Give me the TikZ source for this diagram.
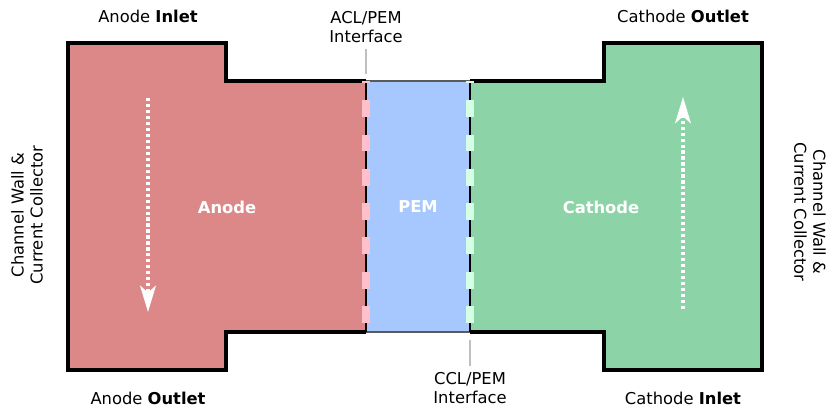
\documentclass[tikz,border=0pt]{standalone}
\usepackage{fontspec}
\setmainfont{DejaVu Sans}
\usetikzlibrary{arrows.meta}
\usepackage{xcolor}

\definecolor{anodefill}{RGB}{221,136,136}
\definecolor{pemfill}{RGB}{166,200,255}
\definecolor{cathodefill}{RGB}{140,212,168}
\definecolor{aclpink}{RGB}{255,192,203}
\definecolor{cclmint}{RGB}{212,255,228}
\definecolor{pemedge}{RGB}{90,90,90}

\begin{document}
\begin{tikzpicture}[x=1cm,y=1cm,font=\fontsize{9.3}{10.8}\selectfont,>=Stealth,
  wall/.style={line width=1.9pt, line join=miter},
  flow/.style={white, line width=1.8pt, dash pattern=on 1.8pt off 1.6pt,
    -{Stealth[length=15pt,width=9pt,inset=4pt]}},
  layer/.style={line width=4.5pt, dash pattern=on 9.6pt off 9.9pt, dash phase=8.5pt},
  lead/.style={black!25, line width=0.8pt},
  region/.style={text=white, font=\fontsize{9.3}{10.8}\selectfont\bfseries}]
\useasboundingbox (0,0) rectangle (16.7,8.18);

% interfaces between the layers
\coordinate (aclTop) at (7.32,6.56);
\coordinate (aclBot) at (7.32,1.54);
\coordinate (cclTop) at (9.40,6.56);
\coordinate (cclBot) at (9.40,1.54);

% channel fills
\fill[anodefill] (aclTop) -- (4.52,6.56) -- (4.52,7.32) -- (1.36,7.32) -- (1.36,0.78)
  -- (4.52,0.78) -- (4.52,1.54) -- (aclBot) -- cycle;
\fill[pemfill] (aclBot) rectangle (cclTop);
\fill[cathodefill] (cclTop) -- (12.08,6.56) -- (12.08,7.32) -- (15.24,7.32) -- (15.24,0.78)
  -- (12.08,0.78) -- (12.08,1.54) -- (cclBot) -- cycle;

% walls
\draw[wall] (aclTop) -- (4.52,6.56) -- (4.52,7.32) -- (1.36,7.32) -- (1.36,0.78)
  -- (4.52,0.78) -- (4.52,1.54) -- (aclBot);
\draw[wall] (cclTop) -- (12.08,6.56) -- (12.08,7.32) -- (15.24,7.32) -- (15.24,0.78)
  -- (12.08,0.78) -- (12.08,1.54) -- (cclBot);
\draw[pemedge, line width=1.3pt] (aclTop) -- (cclTop);
\draw[pemedge, line width=1.3pt] (aclBot) -- (cclBot);

% catalyst layers
\draw[line width=1.7pt] (aclTop) -- (aclBot);
\draw[layer, aclpink] (aclTop) -- (aclBot);
\draw[line width=1.7pt] (cclTop) -- (cclBot);
\draw[layer, cclmint] (cclTop) -- (cclBot);

% region labels
\node[region] (anode) at (4.54,4.04) {Anode};
\node[region] (pem) at (8.36,4.04) {PEM};
\node[region] (cathode) at (12.02,4.04) {Cathode};

% flow direction
\coordinate (anodeIn) at (2.96,6.22);
\coordinate (anodeOut) at (2.96,1.94);
\coordinate (cathodeIn) at (13.66,2.00);
\coordinate (cathodeOut) at (13.66,6.24);
\draw[flow] (anodeIn) -- (anodeOut);
\draw[flow] (cathodeIn) -- (cathodeOut);

% ports
\node (anodeInlet) at (2.96,7.86) {Anode \textbf{Inlet}};
\node (anodeOutlet) at (2.96,0.22) {Anode \textbf{Outlet}};
\node (cathodeOutlet) at (13.66,7.86) {Cathode \textbf{Outlet}};
\node (cathodeInlet) at (13.66,0.22) {Cathode \textbf{Inlet}};

% interface callouts
\node[align=center] (acl) at (7.32,7.64) {ACL/PEM\\Interface};
\node[align=center] (ccl) at (9.40,0.42) {CCL/PEM\\Interface};
\coordinate (aclTip) at (7.32,6.70);
\coordinate (cclTip) at (9.40,1.38);
\draw[lead] (acl.south) -- (aclTip);
\draw[lead] (cclTip) -- (ccl.north);

% side walls
\node[rotate=90, align=center] (wallL) at (0.54,3.88) {Channel Wall \&\\Current Collector};
\node[rotate=-90, align=center] (wallR) at (16.20,3.94) {Channel Wall \&\\Current Collector};
\end{tikzpicture}
\end{document}
